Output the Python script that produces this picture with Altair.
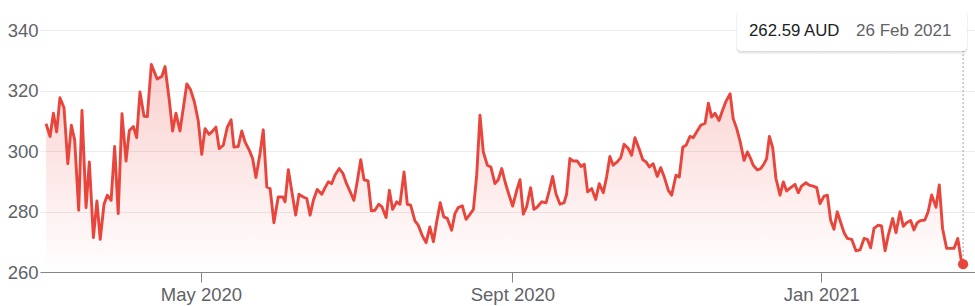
import altair as alt
import pandas as pd

# ---------------- data ----------------
base_date = "2020-02-29"          # day offsets below are counted from this date
currency = "AUD"

day_offsets = [
    0.8, 2.4, 3.7, 5.0, 6.3, 7.9, 9.4, 10.8, 12.1, 13.7,
    15.0, 16.6, 17.9, 19.5, 20.9, 22.2, 23.7, 25.0, 26.5, 27.9,
    29.3, 30.8, 32.4, 33.7, 35.3, 36.6, 37.9, 39.5, 40.8, 42.4,
    44.7, 46.5, 47.8, 49.5, 50.8, 52.1, 53.7, 56.4, 57.9, 59.4,
    60.9, 62.3, 63.6, 65.2, 66.5, 67.9, 69.2, 70.8, 72.4, 73.9,
    75.0, 76.7, 78.1, 79.4, 81.1, 82.4, 83.7, 85.3, 86.6, 88.0,
    89.3, 90.8, 92.5, 94.3, 95.2, 96.5, 97.8, 99.4, 100.7, 102.4,
    103.8, 105.1,
    106.4, 107.9, 109.7, 111.0, 112.3, 113.6, 114.9, 116.6, 118.0, 119.5,
    121.1, 122.4, 123.7, 125.1, 126.4, 128.0, 129.3, 130.7, 132.2, 133.5,
    135.1, 136.4, 137.7, 139.3, 140.6, 142.2, 143.5, 144.8, 146.5, 147.8,
    149.3, 150.9, 152.4, 153.8, 155.1, 156.5, 157.9, 159.3, 161.0,
    162.3, 163.6, 165.2, 166.7, 168.0, 169.6, 170.9, 172.2, 173.5, 175.1,
    176.5, 178.1, 179.4, 180.8, 182.2, 183.8, 185.1, 186.7, 188.0, 189.3,
    190.6, 192.2, 193.5, 194.8, 196.6, 198.3, 199.6, 200.9, 202.2, 203.8,
    205.4, 206.4, 207.7, 209.0, 210.6, 212.1, 213.4, 214.7, 216.3, 217.9,
    219.3,
    220.9, 222.2, 223.5, 224.8, 226.4, 227.8, 229.1, 230.8, 232.1, 233.4,
    235.0, 236.5, 237.8, 239.1, 240.6, 242.2, 243.6, 244.9, 246.6, 247.9,
    249.6, 250.9, 252.3, 253.6, 255.1, 256.4, 258.0, 259.4, 261.1, 262.4,
    263.7, 265.0, 266.6, 267.9, 269.4, 271.0, 272.2, 273.6, 274.9, 276.5,
    277.8,
    279.1, 280.1, 281.7, 283.1, 284.4, 285.4, 286.5, 287.8, 289.1, 290.7,
    292.0, 293.3, 294.9, 296.6, 297.9, 299.2, 300.9, 302.2, 303.8, 305.2,
    306.5, 308.1, 309.4, 310.7, 312.0, 313.3, 314.7, 316.0, 317.3, 319.0,
    320.7, 322.3, 323.9, 325.2, 326.5, 327.8, 329.5, 330.8, 332.2, 333.5,
    335.2, 336.5, 338.1, 339.4, 340.7, 342.3, 343.6, 344.9, 346.2, 347.9,
    349.2, 350.6, 352.3, 353.6, 354.9, 356.5, 358.1, 359.4, 360.9, 362.2,
    363.0,
]

prices = [
    309.0, 304.8, 312.5, 306.3, 317.6, 314.3, 295.8, 308.5, 303.7, 280.4,
    313.4, 281.3, 296.4, 271.4, 283.5, 270.8, 282.4, 285.4, 283.7, 301.5,
    279.3, 312.3, 296.7, 306.8, 308.1, 304.4, 319.5, 311.5, 311.4, 328.6,
    323.8, 324.6, 327.9, 316.7, 306.6, 312.5, 306.6, 322.2, 320.2, 316.2,
    310.1, 298.9, 307.4, 305.5, 306.5, 307.9, 300.8, 301.9, 307.9, 310.3,
    301.3, 301.5, 306.6, 303.0, 300.2, 297.5, 291.2, 299.1, 307.0, 288.1,
    287.6, 276.3, 284.8, 284.8, 283.2, 293.8, 287.0, 278.8, 285.7, 284.8,
    284.3, 278.8,
    283.7, 287.3, 285.7, 287.9, 289.8, 289.2, 292.0, 294.2, 292.7, 289.2,
    286.2, 283.7, 289.8, 297.1, 290.5, 290.1, 280.2, 280.4, 282.4, 281.5,
    278.0, 287.0, 280.7, 283.2, 282.4, 293.1, 282.4, 282.1, 276.9, 275.5,
    272.2, 269.7, 274.9, 270.0, 276.6, 282.9, 278.2, 277.7, 273.8,
    279.3, 281.3, 281.9, 277.4, 278.8, 280.7, 292.0, 311.8, 299.7, 295.3,
    294.7, 289.2, 290.5, 294.2, 289.5, 285.1, 281.8, 287.0, 290.5, 279.1,
    281.5, 287.9, 280.7, 281.5, 283.2, 282.9, 287.0, 291.6, 285.9, 282.4,
    282.9, 285.7, 297.5, 296.7, 296.7, 294.9, 295.6, 286.5, 287.6, 284.0,
    289.2,
    286.2, 291.4, 298.2, 295.3, 296.4, 297.8, 302.2, 300.8, 298.6, 304.4,
    300.8, 297.1, 296.4, 294.7, 295.8, 291.6, 294.5, 291.6, 287.0, 285.4,
    292.0, 291.4, 301.3, 301.9, 304.8, 304.4, 306.6, 308.5, 309.2, 315.8,
    311.2, 312.5, 310.1, 313.2, 316.5, 318.9, 310.7, 307.4, 303.3, 296.9,
    299.7,
    297.5, 295.3, 293.8, 294.2, 295.8, 297.5, 304.8, 301.1, 290.9, 285.4,
    289.8, 286.8, 287.9, 289.0, 286.2, 288.4, 289.5, 288.7, 288.4, 287.9,
    282.6, 285.1, 285.4, 277.1, 274.1, 279.9, 276.3, 273.0, 271.1, 270.8,
    267.0, 267.3, 271.1, 270.8, 268.0, 274.4, 275.5, 275.2, 267.0, 272.3,
    277.7, 273.0, 279.9, 275.1, 276.3, 277.0, 273.9, 276.3, 277.0, 277.2,
    279.9, 285.5, 281.4, 288.8, 274.4, 267.8, 267.8, 267.8, 271.1, 264.2,
    262.59,
]

y_ticks = [260, 280, 300, 320, 340]
x_tick_dates = [(2020, 5, 1), (2020, 9, 1), (2021, 1, 1)]

assert len(day_offsets) == len(prices)

# ---------------- frame ----------------
dates = pd.Timestamp(base_date) + pd.to_timedelta(day_offsets, unit="D")
df = pd.DataFrame({"date": dates.strftime("%Y-%m-%dT%H:%M:%SZ"), "price": prices})
last = df.iloc[[-1]].reset_index(drop=True)
last_date = dates[-1]
price_label = f"{prices[-1]:.2f} {currency}"
date_label = f"{last_date.day} {last_date.strftime('%b %Y')}"

RED = "#e8453c"
FONT = "Liberation Sans"

x_scale = alt.Scale(
    type="utc",
    domain=[
        alt.DateTime(year=2020, month=2, date=27, hours=10, utc=True),
        alt.DateTime(year=2021, month=3, date=2, hours=17, utc=True),
    ],
)
y_scale = alt.Scale(domain=[260, 340], zero=False, nice=False)

x_axis = alt.Axis(
    values=[alt.DateTime(year=y, month=m, date=d, utc=True) for (y, m, d) in x_tick_dates],
    labelExpr="utcFormat(datum.value, '%m') == '09' ? 'Sept ' + utcFormat(datum.value, '%Y') : utcFormat(datum.value, '%b %Y')",
    title=None,
    grid=False,
    domain=True,
    domainColor="#80868b",
    domainWidth=1,
    ticks=True,
    tickColor="#80868b",
    tickSize=10,
    tickWidth=1,
    labelFont=FONT,
    labelFontSize=18.5,
    labelColor="#5f6368",
    labelPadding=3,
)
y_axis = alt.Axis(
    values=y_ticks,
    title=None,
    grid=True,
    gridColor="#ececec",
    gridWidth=1,
    domain=False,
    ticks=False,
    labelFont=FONT,
    labelFontSize=18.5,
    labelColor="#5f6368",
    labelPadding=2,
)

base = alt.Chart(df)

area = base.mark_area(
    color=alt.Gradient(
        gradient="linear",
        stops=[
            alt.GradientStop(color="rgba(232,69,60,0.0)", offset=0),
            alt.GradientStop(color="rgba(232,69,60,0.25)", offset=1),
        ],
        x1=1, x2=1, y1=1, y2=0,
    )
).encode(
    x=alt.X("date:T", scale=x_scale, axis=x_axis),
    y=alt.Y("price:Q", scale=y_scale, axis=y_axis),
    y2=alt.datum(260),
)

line = base.mark_line(color=RED, strokeWidth=2.9, strokeJoin="round").encode(
    x=alt.X("date:T", scale=x_scale),
    y=alt.Y("price:Q", scale=y_scale),
)

lastc = alt.Chart(last)

rule = lastc.mark_rule(color="#9aa0a6", strokeDash=[2, 2], strokeWidth=1).encode(
    x=alt.X("date:T", scale=x_scale),
    y=alt.Y("price:Q", scale=y_scale),
    y2=alt.value(21),
)

dot = lastc.mark_circle(color=RED, size=105, opacity=1).encode(
    x=alt.X("date:T", scale=x_scale),
    y=alt.Y("price:Q", scale=y_scale),
)

shadow1 = lastc.mark_rect(color="#000000", opacity=0.05, cornerRadius=5).encode(
    x=alt.value(696), x2=alt.value(928), y=alt.value(-19), y2=alt.value(24)
)
shadow2 = lastc.mark_rect(color="#000000", opacity=0.08, cornerRadius=4).encode(
    x=alt.value(697), x2=alt.value(927), y=alt.value(-19), y2=alt.value(22.5)
)
box = lastc.mark_rect(color="#ffffff", cornerRadius=4).encode(
    x=alt.value(697), x2=alt.value(927), y=alt.value(-20), y2=alt.value(21)
)
txt_price = lastc.mark_text(
    align="left", baseline="alphabetic", font=FONT, fontSize=16.8, color="#202124"
).encode(x=alt.value(709), y=alt.value(6), text=alt.value(price_label))
txt_date = lastc.mark_text(
    align="left", baseline="alphabetic", font=FONT, fontSize=17, color="#5f6368"
).encode(x=alt.value(816), y=alt.value(6), text=alt.value(date_label))

chart = (
    alt.layer(area, line, rule, dot, shadow1, shadow2, box, txt_price, txt_date)
    .properties(
        width=935,
        height=242,
        padding={"left": 40, "top": 30, "right": 0, "bottom": 34},
        autosize=alt.AutoSizeParams(type="none"),
        background="#ffffff",
    )
    .configure_view(strokeWidth=0)
)

chart.save("out.html", embed_options={"renderer": "svg", "actions": False})
